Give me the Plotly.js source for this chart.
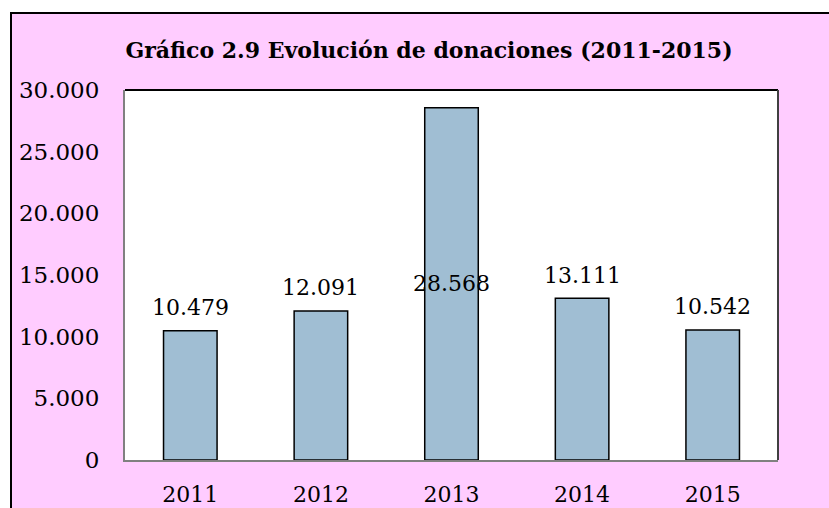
<!DOCTYPE html>
<html>
<head>
<meta charset="utf-8">
<script src="https://cdn.plot.ly/plotly-3.0.1.min.js"></script>
<style>
  html, body { margin: 0; padding: 0; background: #ffffff; overflow: hidden; }
  #frame { position: absolute; left: 10px; top: 12px; border-left: 2px solid #000; border-top: 2px solid #000; }
  #chart { width: 830px; height: 510px; }
</style>
</head>
<body>
<div id="frame"><div id="chart"></div></div>
<script>
const years = ['2011', '2012', '2013', '2014', '2015'];
const donations = [10479, 12091, 28568, 13111, 10542];
const yTicks = [0, 5000, 10000, 15000, 20000, 25000, 30000];
const titleText = '<b>Gráfico 2.9 Evolución de donaciones (2011-2015)</b>';

const serif = "Georgia, 'DejaVu Serif', 'Liberation Serif', serif";

function fmt(v) {
  return String(v).replace(/\B(?=(\d{3})+(?!\d))/g, '.');
}

const idx = years.map((_, i) => i);

const trace = {
  type: 'bar',
  x: idx,
  y: donations,
  width: 0.41,
  marker: { color: '#A0BED3', line: { color: '#000000', width: 1.5 } },
  hoverinfo: 'none'
};

const maxV = Math.max(...donations);
const annotations = idx.map(i => {
  const v = donations[i];
  const inside = v === maxV;
  return {
    x: i, y: inside ? v / 2 : v, xref: 'x', yref: 'y',
    text: fmt(v), showarrow: false,
    yanchor: 'middle', yshift: inside ? 0 : 23,
    font: { family: serif, size: 22, color: '#000' }
  };
});

const layout = {
  width: 830, height: 510,
  margin: { l: 113, r: 64, t: 76, b: 64 },
  paper_bgcolor: '#FFCCFF',
  plot_bgcolor: '#FFFFFF',
  showlegend: false,
  title: {
    text: titleText,
    font: { family: serif, size: 22, color: '#000' },
    x: 417 / 830, xanchor: 'center', xref: 'container',
    y: 1 - 36 / 510, yanchor: 'middle', yref: 'container'
  },
  xaxis: {
    type: 'linear',
    range: [-0.5, years.length - 0.5],
    tickvals: idx,
    ticktext: years,
    showline: true, linecolor: '#808080', linewidth: 2,
    ticks: '', showgrid: false, zeroline: false,
    tickfont: { family: serif, size: 22, color: '#000' },
    ticklabelstandoff: 14
  },
  yaxis: {
    range: [0, 30000],
    tickvals: yTicks,
    ticktext: yTicks.map(fmt),
    showline: true, linecolor: '#808080', linewidth: 2,
    ticks: '', showgrid: false, zeroline: false,
    tickfont: { family: serif, size: 23, color: '#000' },
    ticklabelstandoff: 19
  },
  shapes: [
    { type: 'line', xref: 'paper', yref: 'paper', x0: 0, x1: 1, y0: 1, y1: 1, line: { color: '#000', width: 2 } },
    { type: 'line', xref: 'paper', yref: 'paper', x0: 1, x1: 1, y0: 0, y1: 1, line: { color: '#404040', width: 2 } }
  ],
  annotations: annotations
};

Plotly.newPlot('chart', [trace], layout, { displayModeBar: false, staticPlot: true });
</script>
</body>
</html>
